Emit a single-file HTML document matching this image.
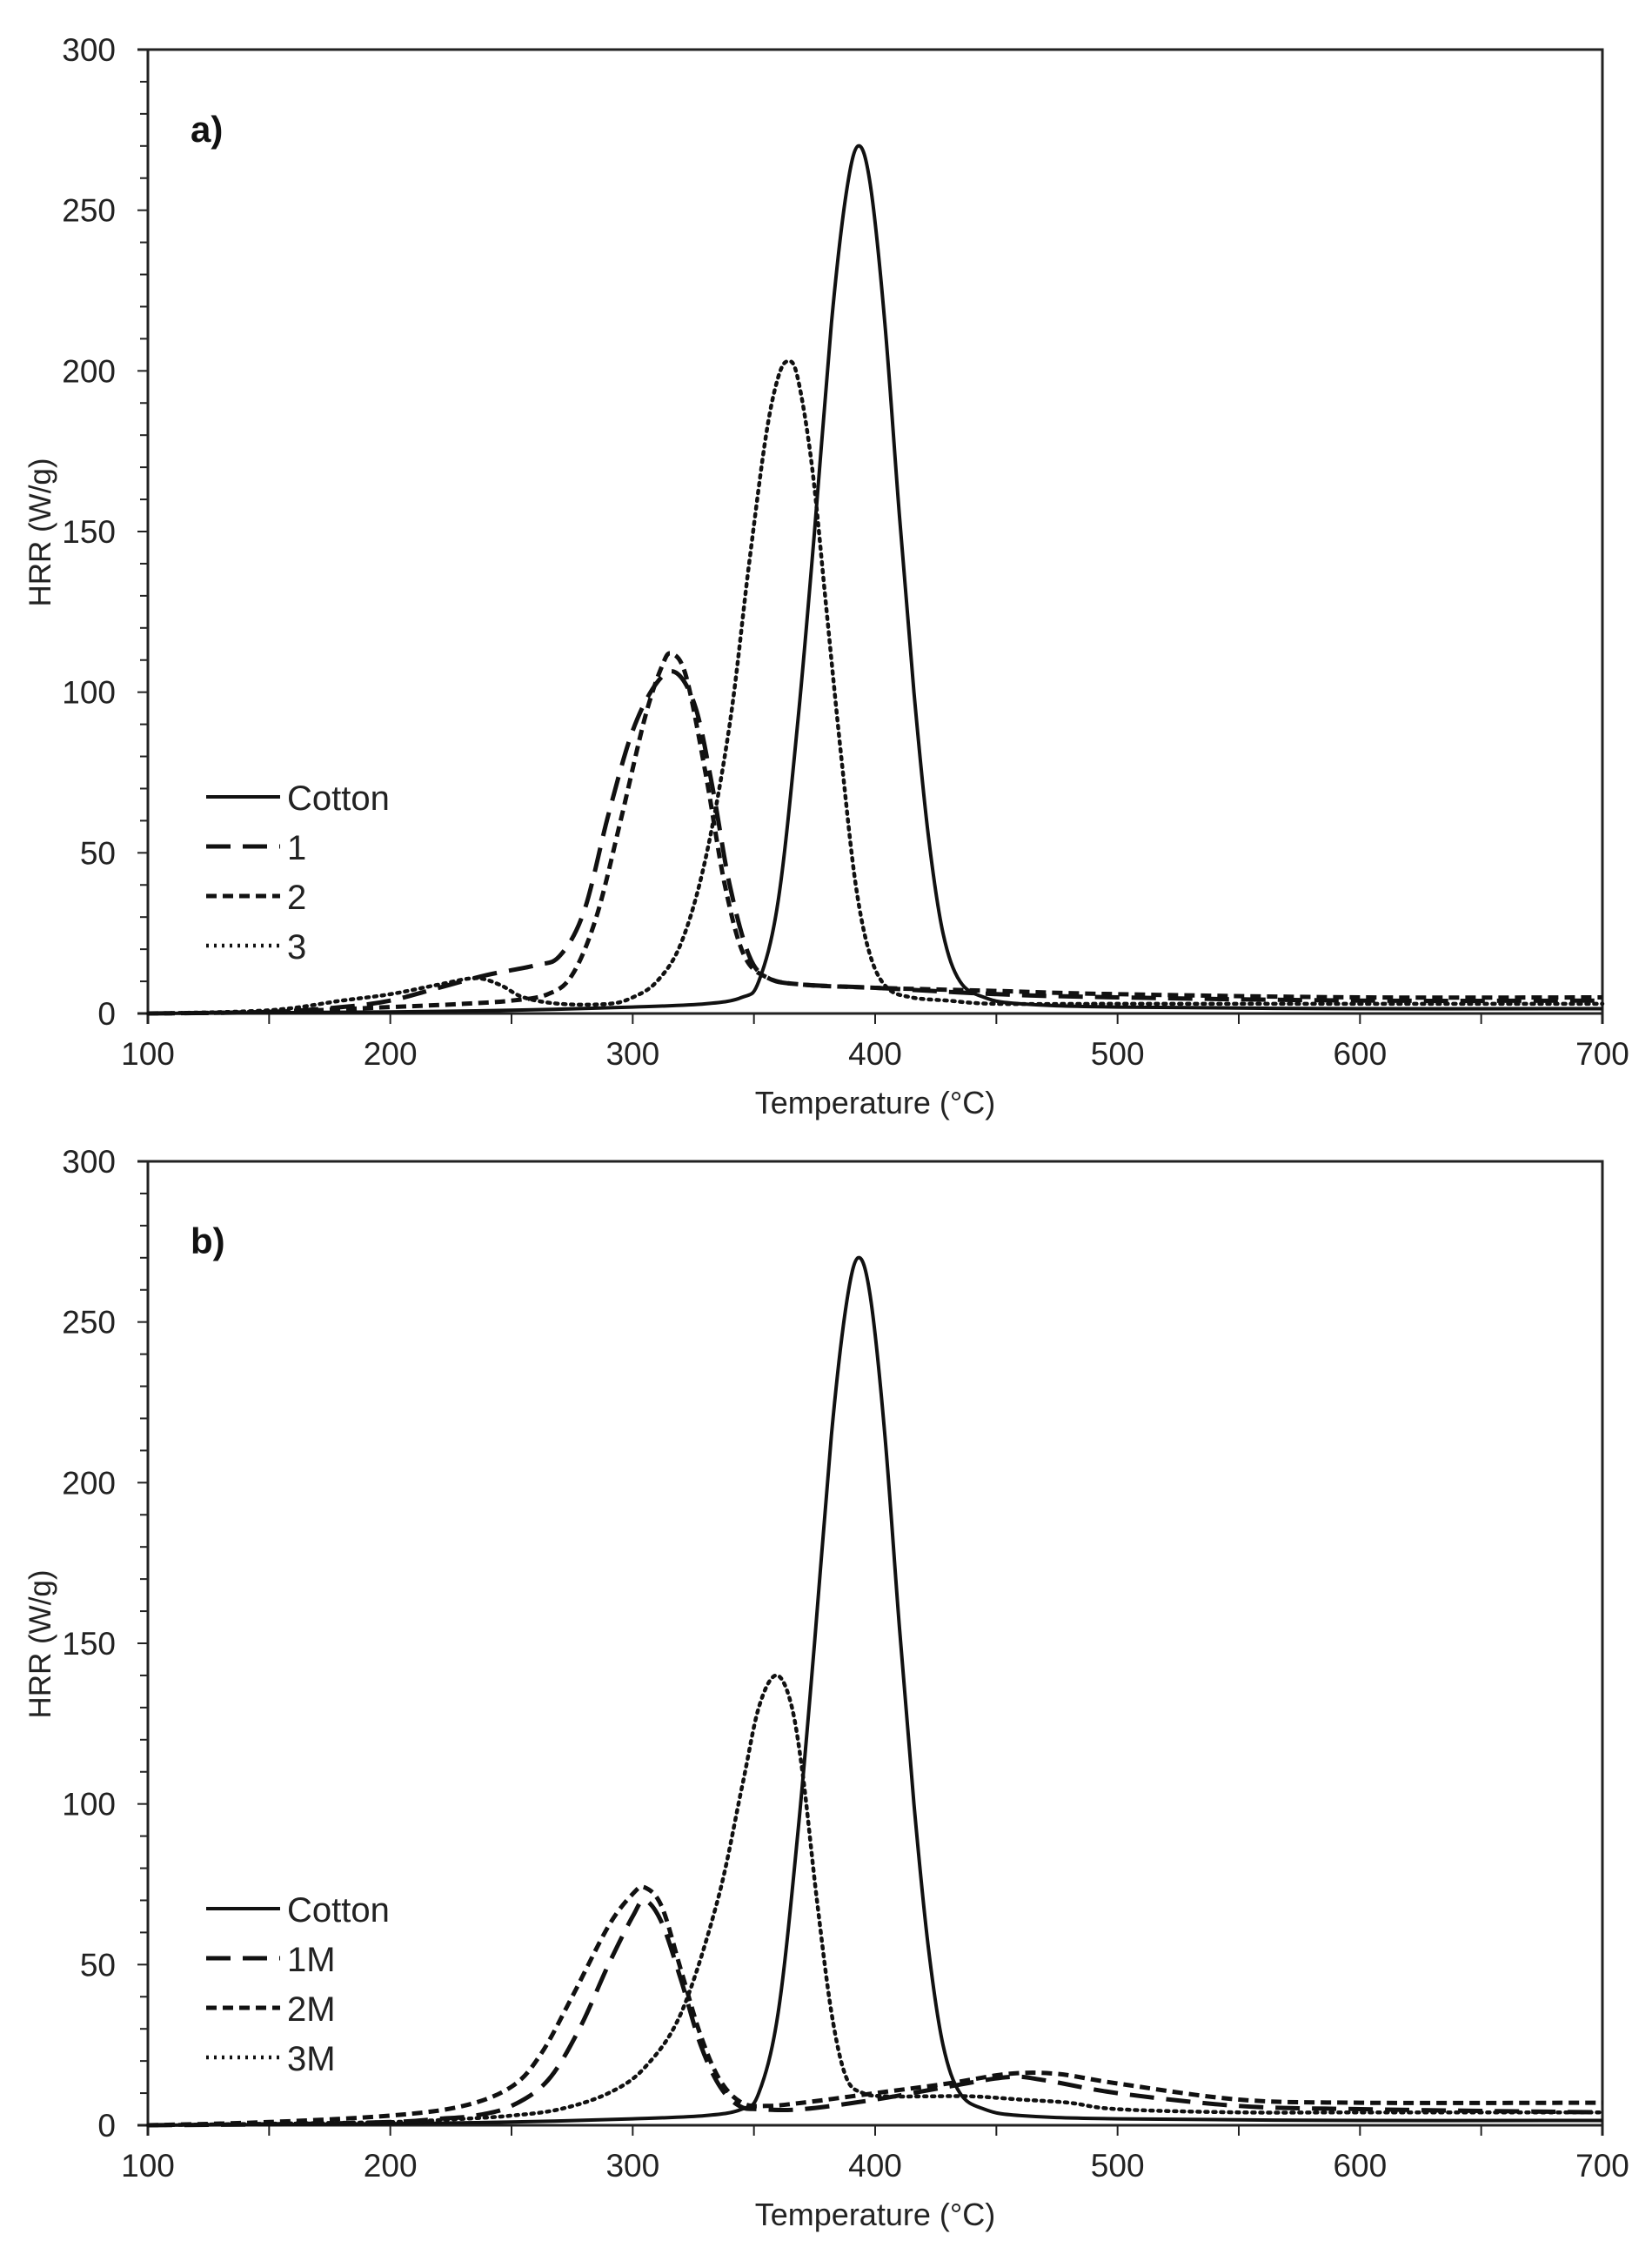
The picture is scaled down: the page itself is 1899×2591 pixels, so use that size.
<!DOCTYPE html>
<html><head><meta charset="utf-8"><style>
html,body{margin:0;padding:0;background:#fff;}
svg{display:block;font-family:"Liberation Sans",Arial,sans-serif;}
</style></head>
<body>
<svg id="chart" width="1899" height="2591" viewBox="0 0 1899 2591" xmlns="http://www.w3.org/2000/svg"></svg>
<script>
// ---- data ----
const xTicks = [100,200,300,400,500,600,700];
const yTicks = [0,50,100,150,200,250,300];
const cottonT = [100,200,250,300,330,345,352,360,368,375,382,388,393,398,404,410,416,422,428,435,445,460,500,600,700];
const cottonV = [0,0.5,1,2,3,5,10,35,90,150,215,255,270,258,215,155,100,55,25,10,5,3,2,1.5,1.5];
const s1T = [100,150,180,200,220,240,260,270,280,290,300,310,318,326,333,340,348,356,370,400,450,500,600,700];
const s1V = [0,0.5,2,4,8,12,15,18,32,62,88,103,106,95,70,40,18,11,9,8,6,5,4,4];
const s2T = [100,150,200,230,250,265,275,285,295,305,312,316,322,330,338,346,356,370,400,450,500,600,700];
const s2V = [0,0.5,2,3,4,6,12,30,60,92,108,112,105,75,40,18,11,9,8,7,6,5,5];
const s3T = [100,150,180,200,220,235,245,255,270,290,300,310,320,330,340,348,355,360,364,368,374,380,386,392,398,405,415,430,450,500,600,700];
const s3V = [0,1,4,6,9,11,9,5,3,3,5,10,22,48,90,140,180,198,203,198,170,125,80,40,18,8,5,4,3,3,3,3];
const m1T = [100,150,200,220,235,250,265,278,290,300,305,312,320,328,336,344,352,370,400,430,455,470,500,550,600,700];
const m1V = [0,0.3,1,2,3,6,14,30,50,65,70,63,45,25,12,6,5,5,8,12,15,14,10,6,5,4];
const m2T = [100,150,200,230,250,262,275,290,300,305,312,320,328,336,345,355,370,400,430,455,475,500,550,600,700];
const m2V = [0,1,3,6,12,22,40,62,72,74,68,48,28,14,7,6,7,10,13,16,16,13,8,7,7];
const m3T = [100,150,200,230,250,270,290,305,320,335,345,352,359,365,370,376,382,388,395,405,420,440,460,480,500,550,600,700];
const m3V = [0,0.5,1,2,3,5,10,18,35,70,105,130,140,132,110,70,35,15,10,9,9,9,8,7,5,4,4,4];
// ---- layout ----
const NS="http://www.w3.org/2000/svg";
const svg=document.getElementById('chart');
const X0=170,X1=1842;
function mk(tag,attrs,parent){const e=document.createElementNS(NS,tag);for(const k in attrs)e.setAttribute(k,attrs[k]);(parent||svg).appendChild(e);return e;}
function smooth(pts){let d='M'+pts[0][0].toFixed(1)+','+pts[0][1].toFixed(1);
 for(let i=0;i<pts.length-1;i++){const p0=pts[Math.max(0,i-1)],p1=pts[i],p2=pts[i+1],p3=pts[Math.min(pts.length-1,i+2)];
  const c1x=p1[0]+(p2[0]-p0[0])/6,c1y=p1[1]+(p2[1]-p0[1])/6,c2x=p2[0]-(p3[0]-p1[0])/6,c2y=p2[1]-(p3[1]-p1[1])/6;
  d+=' C'+c1x.toFixed(1)+','+c1y.toFixed(1)+' '+c2x.toFixed(1)+','+c2y.toFixed(1)+' '+p2[0].toFixed(1)+','+p2[1].toFixed(1);}
 return d;}
const styles={solid:{dash:'none',w:4},long:{dash:'28 14',w:5},short:{dash:'12 7',w:5},dot:{dash:'3 6',w:4.5}};
function panel(id,top,label,series,legendNames){
 const bot=top+1108;
 const xs=t=>X0+(t-100)/600*(X1-X0);
 const ys=v=>bot-v/300*(bot-top);
 const g=mk('g',{});
 
 
 const fr=mk('path',{d:`M158,${top} H${X1} V${bot+12} M${X0},${top} V${bot+12} M158,${bot} H${X1}`,stroke:'#222','stroke-width':3,fill:'none'},g);
 
 
 for(let v=0;v<=300;v+=10){const t=mk('line',{x1:v%50===0?158:161,x2:X0,y1:ys(v),y2:ys(v),stroke:'#222','stroke-width':2},g);
  
  }
 yTicks.forEach(v=>{const t=mk('text',{x:133,y:ys(v)+13,'text-anchor':'end','font-size':37,fill:'#222'},g);t.textContent=v;
  
  });
 for(let x=100;x<=700;x+=50){const t=mk('line',{x1:xs(x),x2:xs(x),y1:bot,y2:bot+12,stroke:'#222','stroke-width':2},g);
  
  }
 xTicks.forEach(v=>{const t=mk('text',{x:xs(v),y:bot+59,'text-anchor':'middle','font-size':37,fill:'#222'},g);t.textContent=v;
  
  });
 const xt=mk('text',{x:(X0+X1)/2,y:bot+115,'text-anchor':'middle','font-size':36,fill:'#222'},g);xt.textContent='Temperature (°C)';
 
 
 const yt=mk('text',{x:0,y:0,'text-anchor':'middle','font-size':35,fill:'#222',transform:`translate(58,${top+555}) rotate(-90)`},g);yt.textContent='HRR (W/g)';
 
 
 const pl=mk('text',{x:219,y:top+106,'font-size':42,'font-weight':'bold',fill:'#111'},g);pl.textContent=label;
 
 
 series.forEach((s,i)=>{
  const pts=s.T.map((t,j)=>[xs(t),ys(s.V[j])]);
  const st=styles[s.style];
  const p=mk('path',{d:smooth(pts),fill:'none',stroke:'#111','stroke-width':st.w,'stroke-dasharray':st.dash,'stroke-linecap':s.style==='dot'?'round':'butt'},g);
  
  
  const ly=top+859+i*57;
  const ll=mk('line',{x1:237,x2:322,y1:ly,y2:ly,stroke:'#111','stroke-width':st.w,'stroke-dasharray':st.dash},g);
  
  
  const lt=mk('text',{x:330,y:ly+15,'font-size':40,fill:'#222'},g);lt.textContent=legendNames[i];
  
  
 });
}
panel('a',57,'a)',[{T:cottonT,V:cottonV,style:'solid'},{T:s1T,V:s1V,style:'long'},{T:s2T,V:s2V,style:'short'},{T:s3T,V:s3V,style:'dot'}],['Cotton','1','2','3']);
panel('b',1335,'b)',[{T:cottonT,V:cottonV,style:'solid'},{T:m1T,V:m1V,style:'long'},{T:m2T,V:m2V,style:'short'},{T:m3T,V:m3V,style:'dot'}],['Cotton','1M','2M','3M']);
</script>
</body></html>
